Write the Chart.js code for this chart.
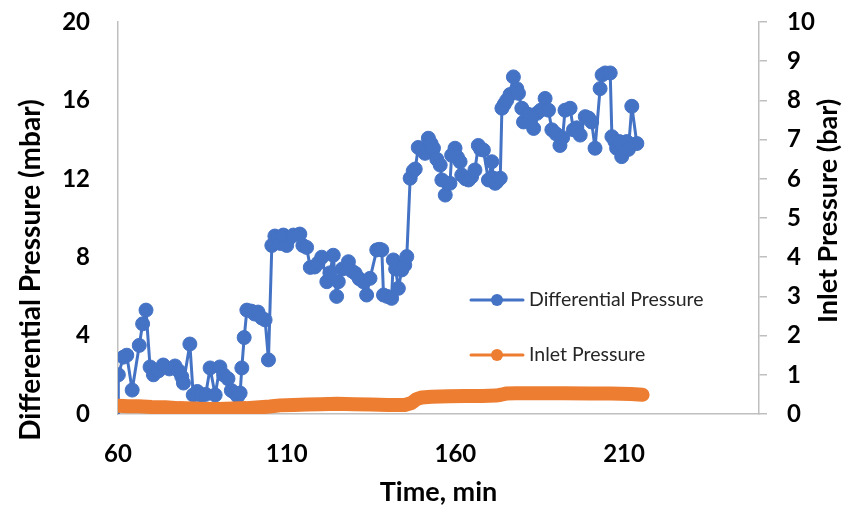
<!DOCTYPE html>
<html>
<head>
<meta charset="utf-8">
<script src="https://cdn.jsdelivr.net/npm/chart.js@4.4.1/dist/chart.umd.min.js"></script>
<style>
  html, body { margin: 0; padding: 0; background: #ffffff; }
  #c { display: block; }
</style>
</head>
<body>
<canvas id="c" width="845" height="506"></canvas>
<script>
// Differential pressure across the filter (mbar) against run time (min)
const dpTime = [60, 60.1, 61.6, 62.6, 64.2, 66.3, 67.3, 68.3, 69.5, 70.5, 72.0, 73.4, 75.2, 76.9, 78.0, 78.9, 79.4, 81.3,
  82.3, 83.5, 84.6, 86.0, 87.3, 88.8, 90.2, 91.3, 92.6, 93.6, 94.7, 95.5, 96.2, 96.7, 97.4, 98.2, 99.5, 100.5, 101.5,
  102.6, 103.6, 104.6, 105.6, 106.5, 107.5, 108.2, 109, 110, 111, 112, 113.9, 114.8, 115.9, 117, 118.3, 119.3, 120.4,
  121.9, 122.8, 123.8, 124.8, 125.3, 126.5, 128.3, 129.3, 130.3, 131.5, 132.7, 133.7, 134.7, 136.7, 137.5, 138.2,
  138.7, 139.8, 141.1, 141.6, 142.3, 143.1, 144.1, 145.0, 145.6, 146.6, 147.5, 148.1, 149, 150, 151, 152, 152.8,
  153.5, 154.5, 155.5, 156, 157, 158.4, 158.9, 159.9, 160.6, 161.4, 161.9, 163.0, 163.9, 164.8, 165.8, 166.8, 167.5,
  168.3, 169.8, 170.8, 171.3, 171.8, 172.3, 173.3, 173.8, 174.5, 175.2, 176.2, 177.2, 178.2, 178.7, 179.7, 180.2,
  181.5, 182.3, 183.2, 184.2, 185.3, 186.6, 187.6, 188.6, 189.8, 191, 191.8, 192.5, 194, 195, 196, 197, 198.5, 199.5,
  200.4, 201.4, 202.9, 203.5, 204.4, 205.9, 206.4, 207.3, 207.8, 208.6, 209.3, 210.0, 210.8, 211.3, 212.3, 213.8];
const dpValue = [0, 2.0, 2.9, 3.0, 1.22, 3.5, 4.6, 5.3, 2.4, 2.0, 2.2, 2.5, 2.3, 2.45, 2.2, 1.9, 1.58, 3.57,
  0.97, 1.15, 0.95, 1.0, 2.35, 0.97, 2.4, 2.0, 1.8, 1.2, 1.07, 0.9, 1.07, 2.35, 3.9, 5.3, 5.25, 5.1, 5.2,
  4.9, 4.8, 2.76, 8.6, 9.08, 9.0, 8.7, 9.13, 8.6, 9.0, 9.13, 9.18, 8.6, 8.5, 7.48, 7.5, 7.7, 8.0,
  6.75, 7.2, 8.1, 6.0, 6.75, 7.4, 7.77, 7.3, 7.18, 6.9, 6.75, 6.07, 6.92, 8.37, 8.4, 8.37,
  6.07, 6.0, 5.9, 7.86, 7.4, 6.41, 7.35, 7.6, 8.03, 12.03, 12.4, 12.5, 13.6, 13.5, 13.3, 14.07, 13.8,
  13.56, 13.0, 12.7, 11.94, 11.17, 11.77, 13.2, 13.56, 13.1, 12.87, 12.19, 12.0, 11.94, 12.1, 12.45, 13.7, 13.5,
  13.47, 11.94, 12.87, 12.03, 11.77, 11.85, 12.03, 15.6, 15.8, 16.0, 16.3, 17.2, 16.6, 16.36, 15.6, 14.9,
  15.3, 15.0, 14.57, 15.34, 15.5, 16.1, 15.5, 14.5, 14.3, 13.7, 14.1, 15.5, 15.6, 14.5, 14.6, 14.23, 15.17, 15.1,
  14.9, 13.56, 16.6, 17.3, 17.4, 17.4, 14.15, 13.9, 13.56, 13.9, 13.13, 13.4, 13.9, 13.5, 15.7, 13.8];

// Inlet pressure (bar) against run time (min)
const ipTime = [60, 63, 66, 70, 74, 78, 82, 86, 90, 94, 98, 102, 105, 108, 112, 116, 120, 125, 130, 135, 140, 145,
  147, 148.5, 150, 153, 158, 163, 168, 172, 173.5, 175, 178, 185, 192, 200, 206, 212, 215.5];
const ipValue = [0.21, 0.2, 0.2, 0.18, 0.17, 0.15, 0.14, 0.13, 0.13, 0.14, 0.15, 0.17, 0.19, 0.22, 0.23, 0.24, 0.25,
  0.26, 0.25, 0.24, 0.23, 0.23, 0.28, 0.38, 0.42, 0.44, 0.45, 0.46, 0.46, 0.47, 0.49, 0.52, 0.53, 0.53, 0.53, 0.52,
  0.52, 0.51, 0.49];

const xTicks = [60, 110, 160, 210];
const dpTicks = [0, 4, 8, 12, 16, 20];
const ipTicks = [0, 1, 2, 3, 4, 5, 6, 7, 8, 9, 10];

const seriesNames = ['Differential Pressure', 'Inlet Pressure'];
const titles = { x: 'Time, min', y: 'Differential Pressure (mbar)', y2: 'Inlet Pressure (bar)' };

const BLUE = '#4472C4';
const ORANGE = '#ED7D31';
const AXIS = '#BFBFBF';
const FONT = 'Lato, "Open Sans", sans-serif';
const TICK_FONT = { family: FONT, size: 24, weight: 'bold' };

const toPoints = (xs, ys) => xs.map((x, i) => ({ x: x, y: ys[i] }));

// Axis titles; both vertical ones read bottom-to-top
const titlePlugin = {
  id: 'axisTitles',
  afterDraw(chart) {
    const ctx = chart.ctx;
    const a = chart.chartArea;
    const put = (text, x, y, size, rotate) => {
      ctx.save();
      ctx.fillStyle = '#000000';
      ctx.font = 'bold ' + size + 'px ' + FONT;
      ctx.textAlign = 'center';
      ctx.textBaseline = 'middle';
      ctx.translate(x, y);
      if (rotate) ctx.rotate(-Math.PI / 2);
      ctx.fillText(text, 0, 0);
      ctx.restore();
    };
    put(titles.x, (a.left + a.right) / 2, 492, 27, false);
    put(titles.y, 31, 270, 28, true);
    put(titles.y2, 828, 211, 27, true);
  }
};

// Legend placed inside the plot area
const legendPlugin = {
  id: 'innerLegend',
  afterDraw(chart) {
    const ctx = chart.ctx;
    const rows = [
      { name: seriesNames[0], color: BLUE, y: 300 },
      { name: seriesNames[1], color: ORANGE, y: 355 }
    ];
    ctx.save();
    rows.forEach(r => {
      ctx.strokeStyle = r.color;
      ctx.lineWidth = 3;
      ctx.lineCap = 'round';
      ctx.beginPath();
      ctx.moveTo(471, r.y);
      ctx.lineTo(523, r.y);
      ctx.stroke();
      ctx.fillStyle = r.color;
      ctx.beginPath();
      ctx.arc(497, r.y, 6, 0, Math.PI * 2);
      ctx.fill();
      ctx.fillStyle = '#262626';
      ctx.font = '19.5px ' + FONT;
      ctx.textAlign = 'left';
      ctx.textBaseline = 'middle';
      ctx.fillText(r.name, 529, r.y);
    });
    ctx.restore();
  }
};

const noOverflow = s => { s.paddingTop = 0; s.paddingBottom = 0; s.paddingLeft = 0; s.paddingRight = 0; };

new Chart(document.getElementById('c'), {
  type: 'scatter',
  data: {
    datasets: [
      {
        label: seriesNames[1],
        data: toPoints(ipTime, ipValue),
        yAxisID: 'y2',
        showLine: true,
        borderColor: ORANGE,
        backgroundColor: ORANGE,
        borderWidth: 14,
        borderCapStyle: 'round',
        borderJoinStyle: 'round',
        pointRadius: 0,
        tension: 0,
        order: 0
      },
      {
        label: seriesNames[0],
        data: toPoints(dpTime, dpValue),
        yAxisID: 'y',
        showLine: true,
        borderColor: BLUE,
        backgroundColor: BLUE,
        borderWidth: 3,
        borderJoinStyle: 'round',
        pointRadius: ctx => (ctx.dataIndex === 0 ? 0 : 7),
        pointBorderWidth: 1,
        pointBorderColor: BLUE,
        pointBackgroundColor: BLUE,
        tension: 0,
        order: 1
      }
    ]
  },
  options: {
    responsive: false,
    animation: false,
    devicePixelRatio: 1,
    layout: { padding: { top: 22, left: 0, right: 0, bottom: 0 } },
    plugins: { legend: { display: false }, tooltip: { enabled: false } },
    scales: {
      x: {
        type: 'linear',
        min: 60,
        max: 250,
        afterFit(s) { noOverflow(s); s.height = 92; },
        afterBuildTicks(s) { s.ticks = xTicks.map(v => ({ value: v })); },
        grid: { display: false, drawTicks: false },
        border: { display: true, color: AXIS, width: 1.5 },
        ticks: { color: '#000000', padding: 26, maxRotation: 0, font: TICK_FONT }
      },
      y: {
        position: 'left',
        min: 0,
        max: 20,
        afterFit(s) { noOverflow(s); s.width = 118; },
        afterBuildTicks(s) { s.ticks = dpTicks.map(v => ({ value: v })); },
        grid: { display: false, drawTicks: false },
        border: { display: true, color: AXIS, width: 1.5 },
        ticks: { color: '#000000', padding: 28, font: TICK_FONT }
      },
      y2: {
        position: 'right',
        min: 0,
        max: 10,
        afterFit(s) { noOverflow(s); s.width = 86; },
        afterBuildTicks(s) { s.ticks = ipTicks.map(v => ({ value: v })); },
        grid: { display: true, drawOnChartArea: false, drawTicks: true, tickLength: 8, color: AXIS, lineWidth: 1.5 },
        border: { display: true, color: AXIS, width: 1.5 },
        ticks: { color: '#000000', padding: 20, font: TICK_FONT }
      }
    }
  },
  plugins: [titlePlugin, legendPlugin]
});
</script>
</body>
</html>
